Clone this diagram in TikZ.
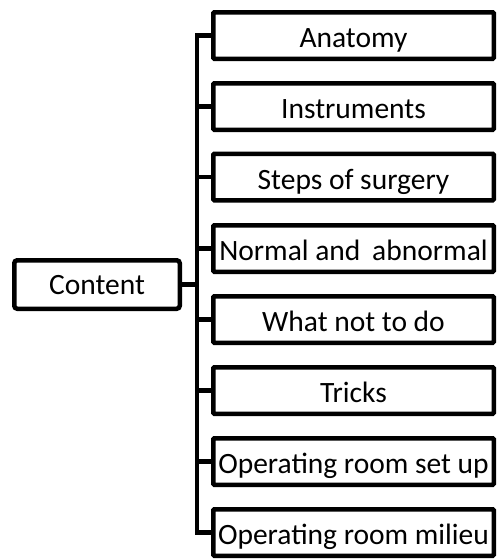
\documentclass[tikz,border=0pt]{standalone}
\usepackage{fontspec}
\setmainfont{Carlito}
\usetikzlibrary{calc}
\tikzset{
	topicbox/.style={draw, line width=4.5pt, rounded corners=1pt, minimum width=280.5pt, minimum height=46.5pt, inner sep=0pt, text height=27pt, text depth=3pt, font=\fontsize{29.5}{35}\selectfont},
	rootbox/.style={draw, line width=4.5pt, rounded corners=3pt, minimum width=165.5pt, minimum height=48.5pt, inner sep=0pt, text height=25pt, text depth=5pt, font=\fontsize{29.5}{35}\selectfont},
	branch/.style={line width=4.5pt}
}
\begin{document}
\begin{tikzpicture}[x=1pt,y=-1pt]
	\useasboundingbox (0,0) rectangle (498,560);
	\node[rootbox] (content) at (97,284.5) {Content};
	\coordinate (trunk) at (197,284.5);
	%
	\node[topicbox] (anatomy) at (353.5,35.5) {Anatomy};
	\node[topicbox] (instruments) at (353.5,106.5) {Instruments};
	\node[topicbox] (steps) at (353.5,177) {Steps of surgery};
	\node[topicbox] (normal) at (353.5,248.5) {Normal and\hspace{0.4em}abnormal};
	\node[topicbox] (notdo) at (353.5,319.5) {What not to do};
	\node[topicbox] (tricks) at (353.5,390.5) {Tricks};
	\node[topicbox] (setup) at (353.5,461.5) {Operating room set up};
	\node[topicbox] (milieu) at (353.5,532.5) {Operating room milieu};
	%
	\draw[branch] (content.east) -- (trunk);
	\draw[branch] (anatomy.west) -- (anatomy.west -| trunk) -- (milieu.west -| trunk) -- (milieu.west);
	\draw[branch] (instruments.west) -- (instruments.west -| trunk);
	\draw[branch] (steps.west) -- (steps.west -| trunk);
	\draw[branch] (normal.west) -- (normal.west -| trunk);
	\draw[branch] (notdo.west) -- (notdo.west -| trunk);
	\draw[branch] (tricks.west) -- (tricks.west -| trunk);
	\draw[branch] (setup.west) -- (setup.west -| trunk);
\end{tikzpicture}
\end{document}
